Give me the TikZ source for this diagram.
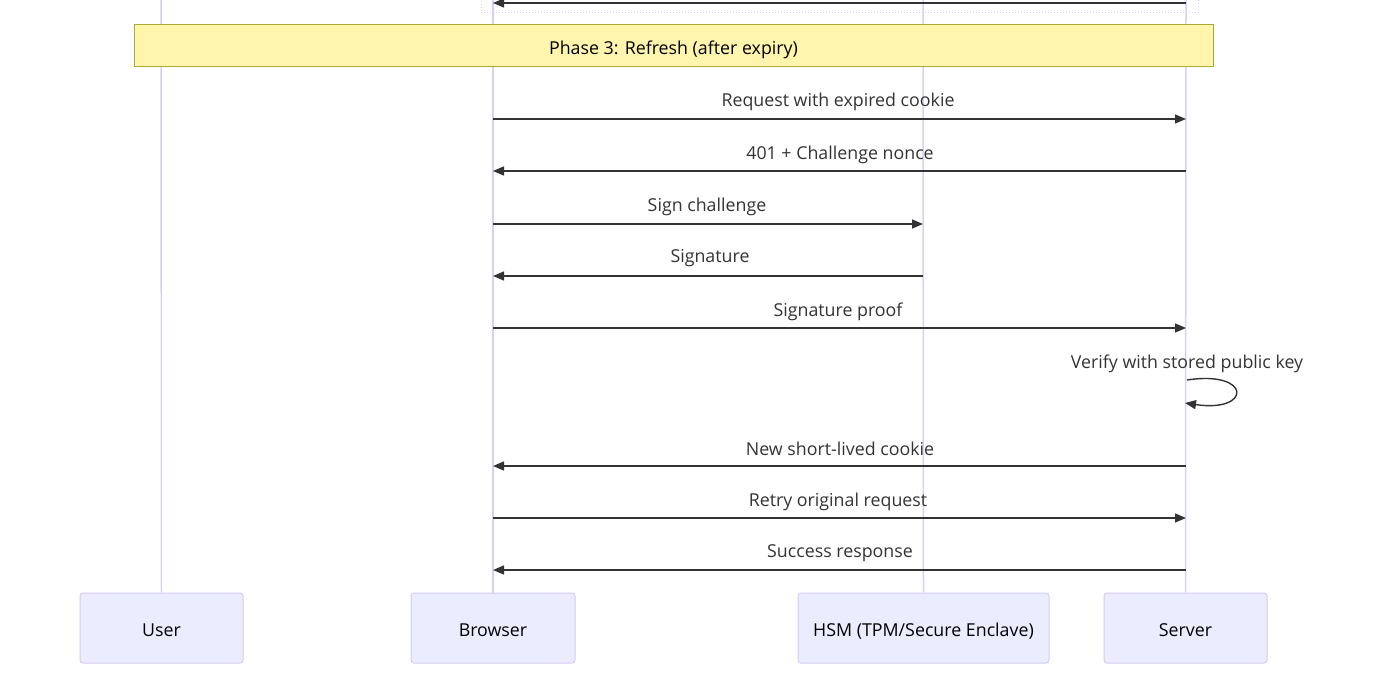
\documentclass[tikz,border=0pt]{standalone}
\usepackage{fontspec}
\setmainfont{Open Sans}
\usetikzlibrary{arrows.meta}
\definecolor{life}{HTML}{D9CFF3}
\definecolor{actfill}{HTML}{ECECFF}
\definecolor{actdraw}{HTML}{D4CCF5}
\definecolor{notefill}{HTML}{FFF5AD}
\definecolor{notedraw}{HTML}{AAAA33}
\definecolor{msg}{HTML}{333333}
\tikzset{
  lifeline/.style={draw=life, line width=1.5pt},
  actor/.style={draw=actdraw, fill=actfill, rounded corners=3pt, line width=1pt, minimum height=70pt, inner sep=0pt, text height=17.2pt, text depth=0pt, font=\fontsize{17.8}{21}\selectfont},
  msgline/.style={draw=msg, line width=1.4pt, -{Triangle[length=11pt,width=9pt]}},
  msglabel/.style={font=\fontsize{17.8}{21}\selectfont, text=msg, inner sep=0pt, yshift=-1.5pt},
  notebox/.style={draw=notedraw, fill=notefill, line width=1pt, inner sep=0pt, text height=17.2pt, text depth=0pt, font=\fontsize{17.8}{21}\selectfont},
  loopbox/.style={draw=actdraw, line width=1pt, dotted}
}
\begin{document}
\begin{tikzpicture}[x=1pt,y=-1pt]
\useasboundingbox (0,0) rectangle (1397,693);
% actors
\node[actor, minimum width=163pt] (user) at (161.5,628) {User};
\node[actor, minimum width=164pt] (browser) at (493,628) {Browser};
\node[actor, minimum width=251pt] (hsm) at (923.5,628) {HSM (TPM/Secure Enclave)};
\node[actor, minimum width=163pt] (server) at (1185.5,628) {Server};
% lifeline tops
\coordinate (ut) at (161,0);
\coordinate (bt) at (493,0);
\coordinate (ht) at (923,0);
\coordinate (st) at (1186,0);
\draw[lifeline] (ut) -- (user.north);
\draw[lifeline] (bt) -- (browser.north);
\draw[lifeline] (ht) -- (hsm.north);
\draw[lifeline] (st) -- (server.north);
% previous loop box remnant
\coordinate (l1) at (481,-2);
\coordinate (l2) at (481,13);
\coordinate (l3) at (1198,13);
\coordinate (l4) at (1198,-2);
\draw[loopbox] (l1) -- (l2) -- (l3) -- (l4);
\coordinate (s0) at (1186,3);
\coordinate (b0) at (493,3);
\draw[msgline] (s0) -- (b0);
% note
\node[notebox, minimum width=1079pt, minimum height=42pt] (note) at (673.5,45.5) {Phase 3: Refresh (after expiry)};
% messages
\coordinate (b1) at (493,119); \coordinate (s1) at (1186,119);
\draw[msgline] (b1) -- (s1);
\node[msglabel] (t1) at (838,100) {Request with expired cookie};
\coordinate (b2) at (493,171); \coordinate (s2) at (1186,171);
\draw[msgline] (s2) -- (b2);
\node[msglabel] (t2) at (840,153) {401 + Challenge nonce};
\coordinate (b3) at (493,224); \coordinate (h3) at (923,224);
\draw[msgline] (b3) -- (h3);
\node[msglabel] (t3) at (707,205) {Sign challenge};
\coordinate (b4) at (493,276); \coordinate (h4) at (923,276);
\draw[msgline] (h4) -- (b4);
\node[msglabel] (t4) at (710,257) {Signature};
\coordinate (b5) at (493,328); \coordinate (s5) at (1186,328);
\draw[msgline] (b5) -- (s5);
\node[msglabel] (t5) at (838,310) {Signature proof};
\coordinate (s6a) at (1187,380); \coordinate (s6b) at (1185,403);
\draw[msgline] (s6a) .. controls (1252,370) and (1252,413) .. (s6b);
\node[msglabel] (t6) at (1187,362) {Verify with stored public key};
\coordinate (b7) at (493,466); \coordinate (s7) at (1186,466);
\draw[msgline] (s7) -- (b7);
\node[msglabel] (t7) at (840,447) {New short-lived cookie};
\coordinate (b8) at (493,518); \coordinate (s8) at (1186,518);
\draw[msgline] (b8) -- (s8);
\node[msglabel] (t8) at (838,500) {Retry original request};
\coordinate (b9) at (493,570); \coordinate (s9) at (1186,570);
\draw[msgline] (s9) -- (b9);
\node[msglabel] (t9) at (840,552) {Success response};
\end{tikzpicture}
\end{document}
